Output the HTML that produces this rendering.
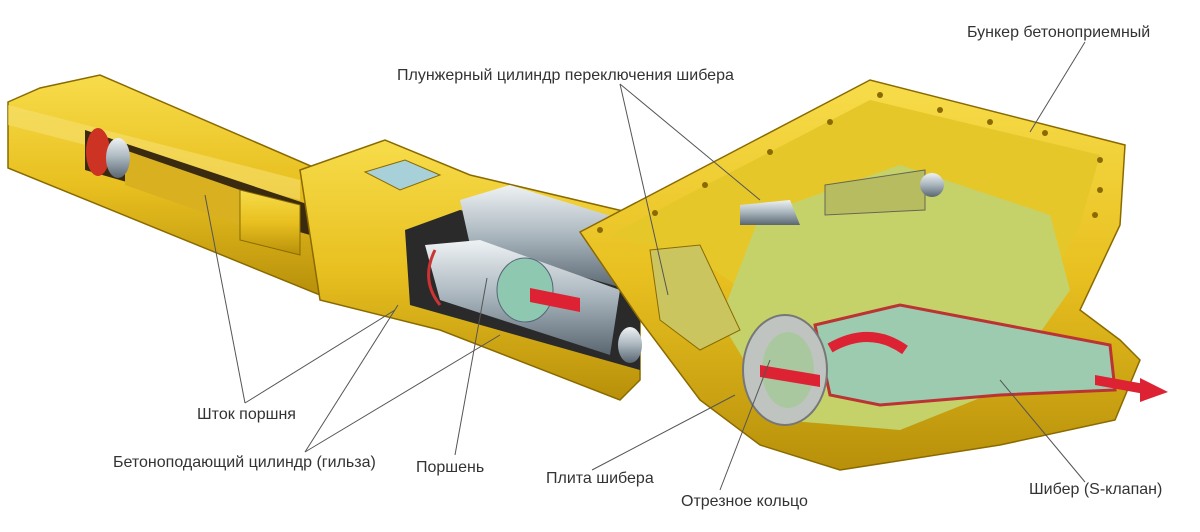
<!DOCTYPE html>
<html><head><meta charset="utf-8"><style>
html,body{margin:0;padding:0;background:#fff;width:1200px;height:532px;overflow:hidden}
svg{display:block}
text{font-family:"Liberation Sans",sans-serif;font-size:16px;fill:#333}
</style></head><body>
<svg width="1200" height="532" viewBox="0 0 1200 532">
<defs>
<linearGradient id="y" x1="0" y1="0" x2="0" y2="1"><stop offset="0" stop-color="#f7dc4a"/><stop offset=".5" stop-color="#e8c020"/><stop offset="1" stop-color="#b8900a"/></linearGradient>
<linearGradient id="s" x1="0" y1="0" x2="0" y2="1"><stop offset="0" stop-color="#eef2f4"/><stop offset=".5" stop-color="#a8b4bc"/><stop offset="1" stop-color="#5a6670"/></linearGradient>
</defs>
<!-- left cylinders -->
<polygon points="8,102 40,88 100,75 320,170 320,295 8,168" fill="url(#y)" stroke="#8a6a00" stroke-width="1.5"/>
<polygon points="8,105 300,180 300,200 8,125" fill="#f7e070" opacity=".6"/>
<polygon points="85,130 310,205 310,235 85,170" fill="#3a2a10"/>
<polygon points="125,150 240,190 240,225 125,185" fill="#d8b020"/>
<ellipse cx="98" cy="152" rx="12" ry="24" fill="#cc3322"/>
<ellipse cx="118" cy="158" rx="12" ry="20" fill="url(#s)"/>
<polygon points="240,190 300,205 300,255 240,240" fill="url(#y)" stroke="#8a6a00"/>
<!-- middle box -->
<polygon points="300,170 385,140 470,175 640,215 640,380 620,400 440,330 320,300" fill="url(#y)" stroke="#8a6a00" stroke-width="1.5"/>
<polygon points="365,172 405,160 440,175 400,190" fill="#a8d0d8" stroke="#8a6a00"/>
<polygon points="405,230 460,210 640,245 640,370 410,305" fill="#2a2a2a"/>
<polygon points="460,200 510,185 640,225 630,290 470,245" fill="url(#s)"/>
<polygon points="425,245 480,240 620,290 610,355 440,300" fill="url(#s)"/>
<ellipse cx="525" cy="290" rx="28" ry="32" fill="#8fc8b0" stroke="#567"/>
<polygon points="530,288 580,298 580,312 530,302" fill="#d23"/>
<path d="M435,250 Q420,280 440,305" fill="none" stroke="#c33" stroke-width="3"/>
<!-- hopper -->
<polygon points="580,232 870,80 1125,145 1120,225 1080,310 1120,340 1140,360 1115,420 1000,445 840,470 760,445 700,400 640,320" fill="url(#y)" stroke="#8a6a00" stroke-width="1.5"/>
<polygon points="610,235 870,100 1100,155 1080,225 1040,300 1000,330 800,330 700,260" fill="#e6c72a"/>
<polygon points="760,215 900,165 1050,215 1070,290 1000,390 900,430 780,420 720,320" fill="#c5d26a"/>
<polygon points="815,325 900,305 1110,345 1115,390 1000,395 880,405 830,395" fill="#9ccbb0" stroke="#b33" stroke-width="3"/>
<ellipse cx="785" cy="370" rx="42" ry="55" fill="#bfc4c0" stroke="#777" stroke-width="2"/>
<ellipse cx="788" cy="370" rx="26" ry="38" fill="#a9c8a0"/>
<polygon points="760,365 820,375 820,387 760,377" fill="#d23"/>
<path d="M830,348 Q870,325 905,350" fill="none" stroke="#d23" stroke-width="10"/>
<polygon points="1095,375 1150,385 1150,395 1095,385" fill="#d23"/>
<polygon points="1140,378 1168,392 1140,402" fill="#d23"/>
<polygon points="825,185 925,170 925,210 825,215" fill="#b8bc60" stroke="#665"/>
<circle cx="932" cy="185" r="12" fill="url(#s)"/>
<polygon points="740,205 790,200 800,225 740,225" fill="url(#s)"/>
<polygon points="650,250 700,245 740,330 700,350 660,320" fill="#cbc560" stroke="#8a6a00"/>
<ellipse cx="630" cy="345" rx="12" ry="18" fill="url(#s)"/>
<g fill="#8a6a00"><circle cx="600" cy="230" r="3"/><circle cx="655" cy="213" r="3"/><circle cx="705" cy="185" r="3"/><circle cx="770" cy="152" r="3"/><circle cx="830" cy="122" r="3"/><circle cx="880" cy="95" r="3"/><circle cx="940" cy="110" r="3"/><circle cx="990" cy="122" r="3"/><circle cx="1045" cy="133" r="3"/><circle cx="1100" cy="160" r="3"/><circle cx="1100" cy="190" r="3"/><circle cx="1095" cy="215" r="3"/></g>
<!-- leader lines -->
<g stroke="#555" stroke-width="1" fill="none">
<line x1="1085" y1="42" x2="1030" y2="132"/>
<line x1="620" y1="84" x2="668" y2="295"/>
<line x1="620" y1="84" x2="760" y2="200"/>
<line x1="245" y1="403" x2="205" y2="195"/>
<line x1="245" y1="403" x2="395" y2="310"/>
<line x1="305" y1="452" x2="398" y2="305"/>
<line x1="305" y1="452" x2="500" y2="335"/>
<line x1="455" y1="455" x2="487" y2="278"/>
<line x1="592" y1="470" x2="735" y2="395"/>
<line x1="720" y1="490" x2="770" y2="360"/>
<line x1="1085" y1="482" x2="1000" y2="380"/>
</g>
<text x="967" y="37">Бункер бетоноприемный</text>
<text x="397" y="80">Плунжерный цилиндр переключения шибера</text>
<text x="197" y="419">Шток поршня</text>
<text x="113" y="467">Бетоноподающий цилиндр (гильза)</text>
<text x="416" y="472">Поршень</text>
<text x="546" y="483">Плита шибера</text>
<text x="681" y="506">Отрезное кольцо</text>
<text x="1029" y="494">Шибер (S-клапан)</text>
</svg>
</body></html>
